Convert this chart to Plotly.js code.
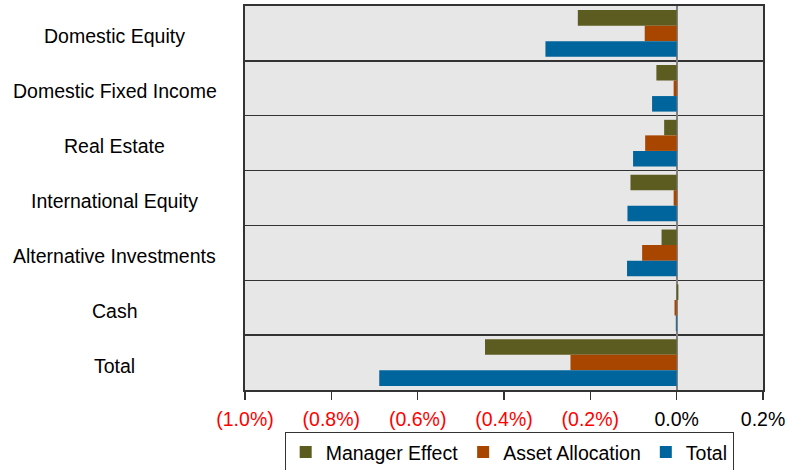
<!DOCTYPE html>
<html>
<head>
<meta charset="utf-8">
<script src="https://cdn.plot.ly/plotly-3.0.1.min.js"></script>
<style>html,body{margin:0;padding:0;background:#fff;}#chart{width:798px;height:470px;}</style>
</head>
<body>
<div id="chart"></div>
<script>
const categories = ["Domestic Equity","Domestic Fixed Income","Real Estate","International Equity","Alternative Investments","Cash","Total"];
const managerEffect = [-0.229, -0.047, -0.029, -0.107, -0.035, 0.004, -0.444];
const assetAllocation = [-0.074, -0.007, -0.073, -0.007, -0.080, -0.005, -0.246];
const totalEffect = [-0.304, -0.057, -0.101, -0.114, -0.115, -0.002, -0.689];
const tickVals = [-1.0, -0.8, -0.6, -0.4, -0.2, 0.0, 0.2];
const tickLabels = ["(1.0%)","(0.8%)","(0.6%)","(0.4%)","(0.2%)","0.0%","0.2%"];
const seriesNames = ["Manager Effect","Asset Allocation","Total"];
const colors = ["#5c5c20","#a84600","#00659c"];

const font = "Liberation Sans, Arial, sans-serif";
const fs = 19.5;
const series = [managerEffect, assetAllocation, totalEffect];
const traces = series.map((vals, i) => ({
  type: "bar",
  orientation: "h",
  name: seriesNames[i],
  y: categories,
  x: vals,
  marker: {color: colors[i]},
  hoverinfo: "x+y"
}));

const ticktext = tickVals.map((v, i) => v < 0 ? '<span style="color:#ff0000">' + tickLabels[i] + '</span>' : tickLabels[i]);

const annotations = categories.map(c => ({
  x: -0.251, xref: "paper", xanchor: "center",
  y: c, yref: "y", yanchor: "middle", yshift: -3,
  text: c, showarrow: false,
  font: {family: font, size: fs, color: "#000"}
}));

const layout = {
  width: 798, height: 470,
  margin: {l: 245, r: 35, t: 6, b: 80, autoexpand: false},
  paper_bgcolor: "#ffffff",
  plot_bgcolor: "#e7e7e7",
  barmode: "group",
  bargap: 0.15,
  bargroupgap: 0,
  font: {family: font, size: fs, color: "#000"},
  xaxis: {
    range: [-1.0, 0.2],
    tickvals: tickVals,
    ticktext: ticktext,
    ticks: "outside", ticklen: 8, tickwidth: 1.5, tickcolor: "#333",
    ticklabelstandoff: 3,
    showgrid: false,
    zeroline: true, zerolinecolor: "#808080", zerolinewidth: 2,
    showline: true, linecolor: "#333", linewidth: 2, mirror: true,
    tickfont: {family: font, size: fs, color: "#000"},
    automargin: false,
    fixedrange: true
  },
  yaxis: {
    type: "category",
    autorange: "reversed",
    tickson: "boundaries",
    ticks: "", showticklabels: false,
    showgrid: true, gridcolor: "#333", gridwidth: 1.5,
    showline: true, linecolor: "#333", linewidth: 2, mirror: true,
    automargin: false,
    fixedrange: true
  },
  annotations: annotations,
  showlegend: true,
  legend: {
    orientation: "h",
    x: 0.51, xanchor: "center",
    y: -0.109, yanchor: "top",
    bordercolor: "#333", borderwidth: 1,
    bgcolor: "#ffffff",
    font: {family: font, size: fs, color: "#000"},
    traceorder: "normal"
  }
};

Plotly.newPlot("chart", traces, layout, {displayModeBar: false, staticPlot: true});
</script>
</body>
</html>
